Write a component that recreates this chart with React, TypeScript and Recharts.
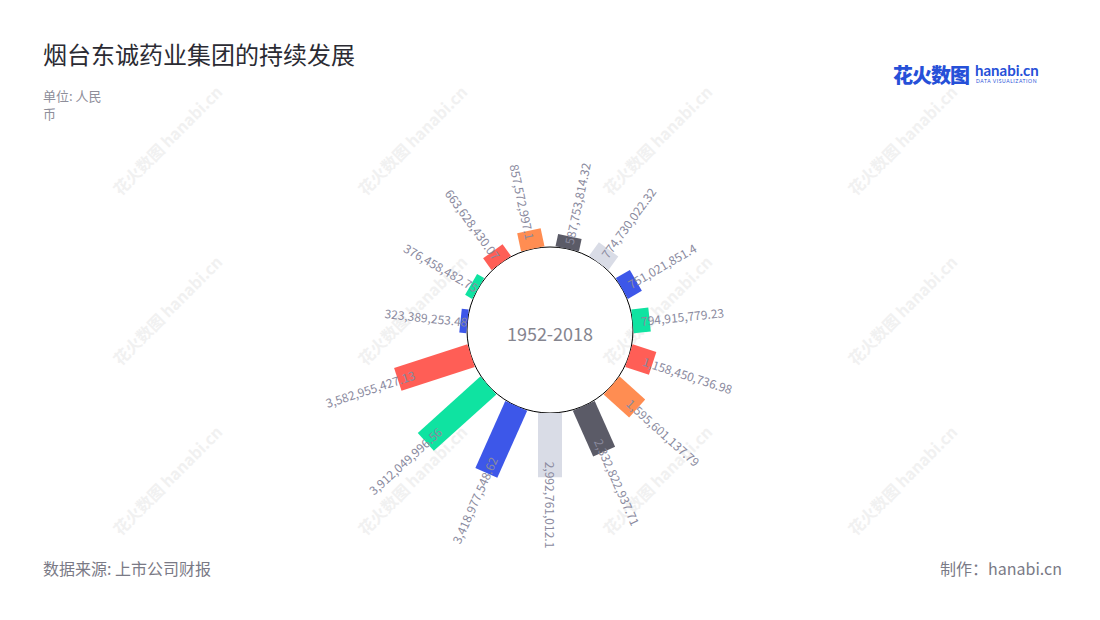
import { RadialBarChart, RadialBar, PolarAngleAxis, PolarRadiusAxis, PolarGrid, Cell } from "recharts";

const years = ["2004", "2005", "2006", "2007", "2008", "2009", "2010", "2011", "2012", "2013", "2014", "2015", "2016", "2017", "2018"];
const revenue = [
  323389253.48, 376458482.75, 663628430.07, 857572997.1, 587753814.32, 774730022.32, 751021851.4, 794915779.23,
  1158450736.98, 1595601137.79, 2332822937.71, 2992761012.1, 3418977548.62, 3912049996.56, 3582955427.13,
];
const palette = ["#3d57e9", "#0fe3a1", "#ff5e56", "#ff8d52", "#5b5b67", "#d9dce6"];

const data = years.map((y, i) => ({ year: y, value: revenue[i] }));

const FONT = "'Noto Sans CJK SC', 'Noto Sans', sans-serif";
const BAR_W = 24;

function fmt(v: number) {
  return v.toLocaleString("en-US", { maximumFractionDigits: 2 });
}

function BarShape(props: any) {
  const { cx, cy, innerRadius, outerRadius, startAngle, endAngle, fill, value } = props;
  const m = ((startAngle + endAngle) / 2) * (Math.PI / 180);
  const ux = Math.cos(m);
  const uy = -Math.sin(m);
  const px = Math.sin(m) * (BAR_W / 2);
  const py = Math.cos(m) * (BAR_W / 2);
  const pt = (r: number, s: number) => `${cx + r * ux + s * px},${cy + r * uy + s * py}`;
  const pts = [pt(innerRadius, 1), pt(outerRadius, 1), pt(outerRadius, -1), pt(innerRadius, -1)].join(" ");

  // label runs along the bar, starting a little inside its end
  const r0 = outerRadius - 6 - 0.15 * (outerRadius - innerRadius);
  const lx = cx + r0 * ux;
  const ly = cy + r0 * uy;
  const deg = (m * 180) / Math.PI;
  const right = ux > -0.01;
  const rot = right ? -deg : 180 - deg;
  const v = Array.isArray(value) ? value[1] : value;

  return (
    <g>
      <polygon points={pts} fill={fill} />
      <text
        x={lx}
        y={ly}
        transform={`rotate(${rot}, ${lx}, ${ly})`}
        textAnchor={right ? "start" : "end"}
        dominantBaseline="central"
        fontSize={12}
        fontFamily={FONT}
        fill="#8a8a9e"
      >
        {fmt(v)}
      </text>
    </g>
  );
}

const marks = [140, 310, 480].flatMap((y) => [165, 410, 655, 900].map((x) => ({ x, y })));

export default function App() {
  return (
    <div style={{ position: "fixed", left: 0, top: 0, width: 1100, height: 620, background: "#fff", fontFamily: FONT, overflow: "hidden" }}>
      {marks.map((w, i) => (
        <div
          key={i}
          style={{
            position: "absolute",
            left: w.x - 70,
            top: w.y - 10,
            width: 140,
            textAlign: "center",
            transform: "rotate(-45deg)",
            color: "#f1f1f1",
            fontSize: 16,
            fontWeight: 700,
            whiteSpace: "nowrap",
          }}
        >
          花火数图 hanabi.cn
        </div>
      ))}
      <div style={{ position: "absolute", left: 43, top: 36, fontSize: 24, color: "#2b2b33" }}>烟台东诚药业集团的持续发展</div>
      <div style={{ position: "absolute", left: 43, top: 87, fontSize: 13, lineHeight: "18px", color: "#8e8e9a", width: 70 }}>
        单位: 人民
        <br />币
      </div>
      <div style={{ position: "absolute", left: 893, top: 60, fontSize: 20, fontWeight: 900, color: "#2650d8", letterSpacing: -1 }}>花火数图</div>
      <div style={{ position: "absolute", left: 975, top: 61, fontSize: 15, fontWeight: 700, color: "#2650d8", fontFamily: "Lato, sans-serif" }}>hanabi.cn</div>
      <div style={{ position: "absolute", left: 976, top: 78, fontSize: 5, color: "#2650d8", letterSpacing: 0.6, fontFamily: "Lato, sans-serif" }}>DATA VISUALIZATION</div>

      <div style={{ position: "absolute", left: 0, top: 0 }}>
        <RadialBarChart
          width={1100}
          height={620}
          data={data}
          layout="centric"
          cx={550}
          cy={330}
          innerRadius={83}
          outerRadius={169}
          startAngle={162}
          endAngle={-198}
          barCategoryGap={0}
        >
          <PolarAngleAxis type="category" dataKey="year" tick={false} axisLine={false} tickLine={false} />
          <PolarRadiusAxis type="number" domain={[0, 4000000000]} tick={false} axisLine={false} tickLine={false} />
          <PolarGrid gridType="circle" polarRadius={[83]} radialLines={false} stroke="#000" strokeWidth={1} />
          <RadialBar dataKey="value" shape={BarShape} isAnimationActive={false}>
            {data.map((d, i) => (
              <Cell key={d.year} fill={palette[i % palette.length]} />
            ))}
          </RadialBar>
        </RadialBarChart>
      </div>

      <div style={{ position: "absolute", left: 450, top: 320, width: 200, textAlign: "center", fontSize: 18, color: "#85858f" }}>1952-2018</div>
      <div style={{ position: "absolute", left: 43, top: 556, fontSize: 16, color: "#7a7a86" }}>数据来源: 上市公司财报</div>
      <div style={{ position: "absolute", right: 38, top: 556, fontSize: 16, color: "#7a7a86" }}>制作：hanabi.cn</div>
    </div>
  );
}
